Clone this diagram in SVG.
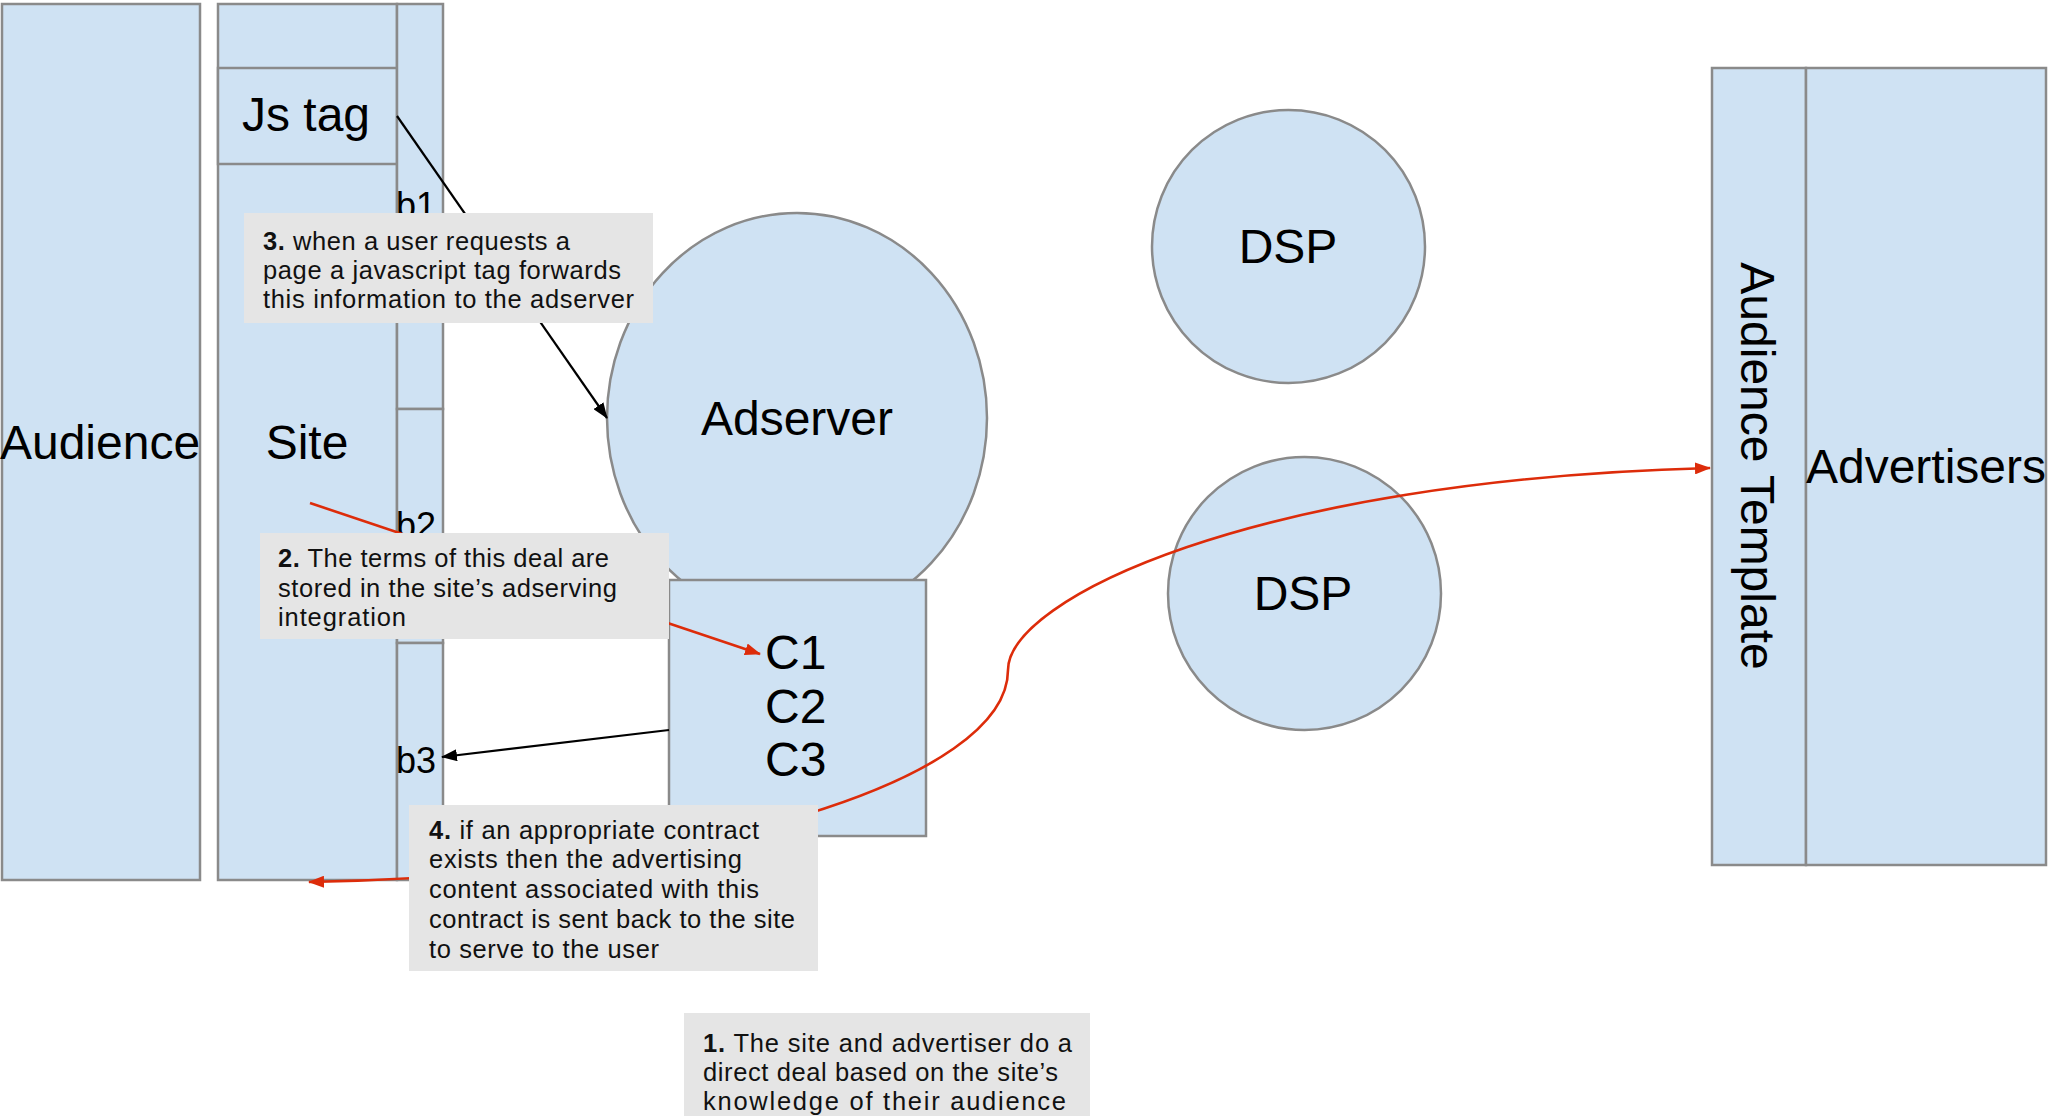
<svg xmlns="http://www.w3.org/2000/svg" width="2048" height="1116" viewBox="0 0 2048 1116">
<style>
.node{fill:#cfe2f3;stroke:#8a8a8a;stroke-width:2.5}
.lbl{font-family:"Liberation Sans",Arial,sans-serif;font-size:48px;fill:#000}
.blbl{font-family:"Liberation Sans",Arial,sans-serif;font-size:36px;fill:#000}
.note{fill:#e5e5e5;stroke:none}
.nt{font-family:"Liberation Sans",Arial,sans-serif;font-size:25.5px;fill:#111}
.nt tspan.b{font-weight:bold}
.blk{fill:none;stroke:#000;stroke-width:2.2}
.red{fill:none;stroke:#dd2c0a;stroke-width:2.6}
</style>
<defs>
<marker id="ab" viewBox="0 0 16 12" refX="15" refY="6" markerWidth="16" markerHeight="12" markerUnits="userSpaceOnUse" orient="auto-start-reverse"><path d="M0,0 L16,6 L0,12 z" fill="#000"/></marker>
<marker id="ar" viewBox="0 0 16 12" refX="15" refY="6" markerWidth="16" markerHeight="12" markerUnits="userSpaceOnUse" orient="auto-start-reverse"><path d="M0,0 L16,6 L0,12 z" fill="#dd2c0a"/></marker>
</defs>

<g id="audience">
<rect class="node" x="2" y="4" width="198" height="876"/>
<text class="lbl" x="100" y="459" text-anchor="middle">Audience</text>
</g>

<g id="site">
<rect class="node" x="218" y="4" width="179" height="876"/>
<text class="lbl" x="307" y="459" text-anchor="middle">Site</text>
</g>
<g id="jstag">
<rect class="node" x="218" y="68" width="179" height="96"/>
<text class="lbl" x="306" y="131" text-anchor="middle">Js tag</text>
</g>
<g id="b1">
<rect class="node" x="397" y="4" width="46" height="405"/>
<text class="blbl" x="396" y="218">b1</text>
</g>
<g id="b2">
<rect class="node" x="397" y="409" width="46" height="234"/>
<text class="blbl" x="396" y="538">b2</text>
</g>
<g id="b3">
<rect class="node" x="397" y="643" width="46" height="237"/>
<text class="blbl" x="396" y="773">b3</text>
</g>

<g id="adserver">
<ellipse class="node" cx="797" cy="418" rx="190" ry="205"/>
<text class="lbl" x="797" y="435" text-anchor="middle">Adserver</text>
</g>

<g id="contracts">
<rect class="node" x="669" y="580" width="257" height="256"/>
<text class="lbl" x="765" y="669">C1</text>
<text class="lbl" x="765" y="723">C2</text>
<text class="lbl" x="765" y="776">C3</text>
</g>

<g id="dsp1">
<circle class="node" cx="1288.5" cy="246.5" r="136.5"/>
<text class="lbl" x="1288" y="263" text-anchor="middle">DSP</text>
</g>
<g id="dsp2">
<circle class="node" cx="1304.5" cy="593.5" r="136.5"/>
<text class="lbl" x="1303" y="610" text-anchor="middle">DSP</text>
</g>

<g id="audience-template">
<rect class="node" x="1712" y="68" width="94" height="797"/>
<text class="lbl" transform="translate(1741,466) rotate(90)" x="0" y="0" text-anchor="middle">Audience Template</text>
</g>
<g id="advertisers">
<rect class="node" x="1806" y="68" width="240" height="797"/>
<text class="lbl" x="1926" y="483" text-anchor="middle">Advertisers</text>
</g>

<g id="connectors">
<path class="blk" d="M397,116 L607,418" marker-end="url(#ab)"/>
<path class="blk" d="M669,730 L442,757" marker-end="url(#ab)"/>
<path class="red" d="M310,503 L760,654" marker-end="url(#ar)"/>
<path class="red" d="M309,882 C700,875 1008,780 1008,670 C1008,600 1250,480 1710,468" marker-start="url(#ar)" marker-end="url(#ar)"/>
</g>

<g id="note3">
<rect class="note" x="244" y="213" width="409" height="110"/>
<text class="nt" x="263" y="250" textLength="307" lengthAdjust="spacing"><tspan class="b">3.</tspan> when a user requests a</text>
<text class="nt" x="263" y="279" textLength="358" lengthAdjust="spacing">page a javascript tag forwards</text>
<text class="nt" x="263" y="308" textLength="371" lengthAdjust="spacing">this information to the adserver</text>
</g>

<g id="note2">
<rect class="note" x="260" y="533" width="409" height="106"/>
<text class="nt" x="278" y="567" textLength="331" lengthAdjust="spacing"><tspan class="b">2.</tspan> The terms of this deal are</text>
<text class="nt" x="278" y="597" textLength="339" lengthAdjust="spacing">stored in the site’s adserving</text>
<text class="nt" x="278" y="626" textLength="128" lengthAdjust="spacing">integration</text>
</g>

<g id="note4">
<rect class="note" x="409" y="805" width="409" height="166"/>
<text class="nt" x="429" y="839" textLength="330" lengthAdjust="spacing"><tspan class="b">4.</tspan> if an appropriate contract</text>
<text class="nt" x="429" y="868" textLength="313" lengthAdjust="spacing">exists then the advertising</text>
<text class="nt" x="429" y="898" textLength="330" lengthAdjust="spacing">content associated with this</text>
<text class="nt" x="429" y="928" textLength="366" lengthAdjust="spacing">contract is sent back to the site</text>
<text class="nt" x="429" y="958" textLength="230" lengthAdjust="spacing">to serve to the user</text>
</g>

<g id="note1">
<rect class="note" x="684" y="1013" width="406" height="110"/>
<text class="nt" x="703" y="1052" textLength="369" lengthAdjust="spacing"><tspan class="b">1.</tspan> The site and advertiser do a</text>
<text class="nt" x="703" y="1081" textLength="355" lengthAdjust="spacing">direct deal based on the site’s</text>
<text class="nt" x="703" y="1110" textLength="363" lengthAdjust="spacing">knowledge of their audience</text>
</g>
</svg>
